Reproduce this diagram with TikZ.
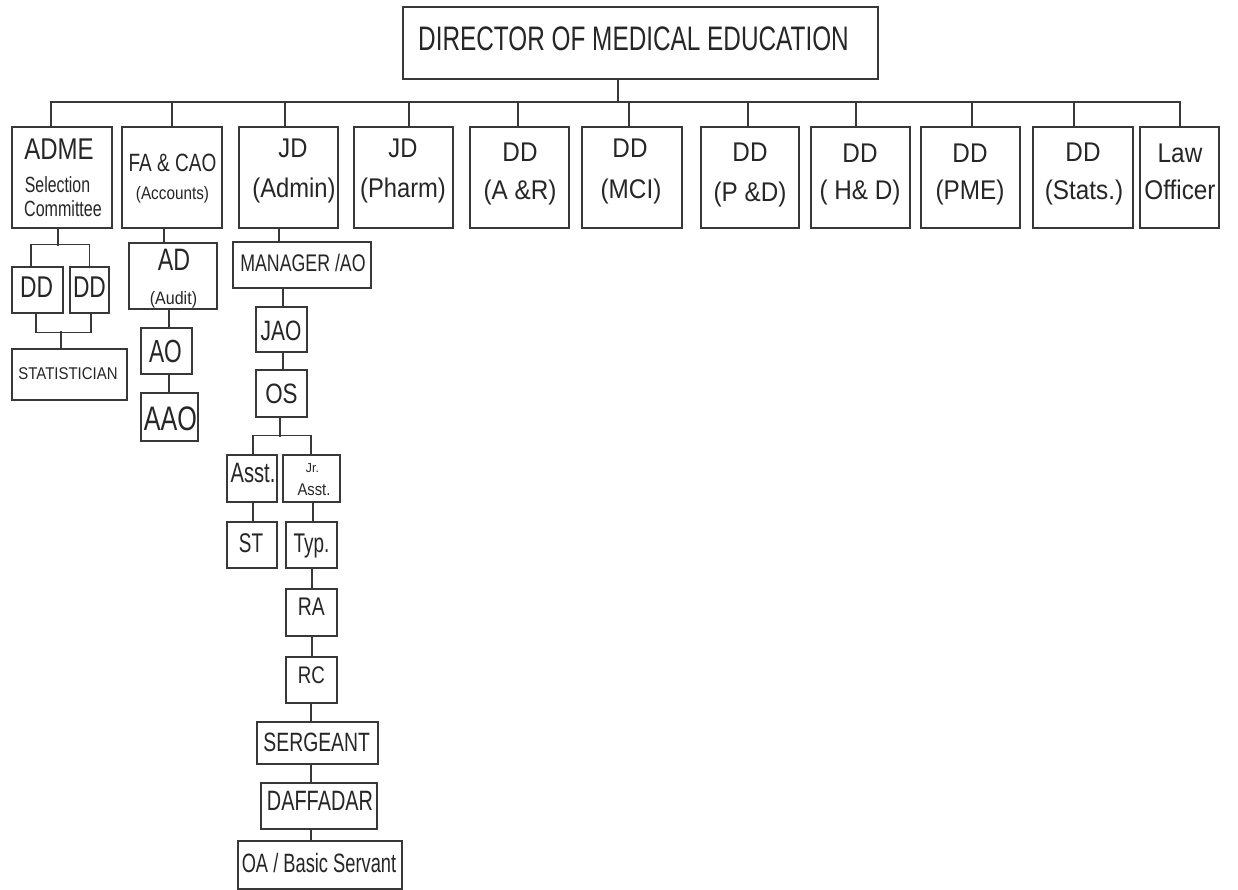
\documentclass[tikz,border=0pt]{standalone}
\usepackage{fontspec}
\usepackage{graphicx}
\setmainfont{Liberation Sans}
\newcommand\tx[3]{\scalebox{#2}[1]{\fontsize{#1}{#1}\selectfont #3}}
\begin{document}
\begin{tikzpicture}[x=1pt,y=-1pt,
  box/.style={draw=black!78, line width=1.1pt, inner sep=0pt, fill=white},
  ln/.style={draw=black!78, line width=1.1pt},
  txt/.style={inner sep=0pt, anchor=base, text=black!85}]
\newcommand\bx[5]{\node[box, minimum width=#4pt, minimum height=#5pt] (#1) at (#2,#3) {};}
\newcommand\tl[6]{\node[txt] (#1) at (#2,#3) {\tx{#4}{#5}{#6}};}
\fill[white] (0,0) rectangle (1238,890);
\useasboundingbox (0,0) rectangle (1238,890);

% ---------- boxes ----------
\bx{dme}{640.5}{43}{475}{72}
% top level
\bx{adme}{62}{177.5}{100}{101}
\bx{fa}{172}{177.5}{100}{101}
\bx{jda}{288.5}{177.5}{99}{101}
\bx{jdp}{403.5}{177.5}{99}{101}
\bx{dar}{519.5}{177.5}{99}{101}
\bx{dmci}{632}{177.5}{100}{101}
\bx{dpd}{750}{177.5}{98}{101}
\bx{dhd}{860.5}{177.5}{99}{101}
\bx{dpme}{970.5}{177.5}{99}{101}
\bx{dst}{1083}{177.5}{100}{101}
\bx{law}{1179.5}{177.5}{79}{101}
% ADME branch
\bx{dd1}{37.5}{290}{51}{46}
\bx{dd2}{89.5}{290}{39}{46}
\bx{stat}{69.5}{374.5}{115}{51}
% FA branch
\bx{ad}{173}{276}{88}{66}
\bx{ao}{166.5}{351}{51}{46}
\bx{aao}{169.5}{417}{57}{48}
% JD admin branch
\bx{mgr}{302}{265}{138}{46}
\bx{jao}{281.5}{329.5}{51}{45}
\bx{os}{281.5}{393.5}{51}{47}
\bx{asst}{252}{478.5}{50}{47}
\bx{jrasst}{311.5}{478.5}{57}{47}
\bx{st}{252}{545}{50}{46}
\bx{typ}{311.5}{545}{51}{46}
\bx{ra}{311.5}{612.5}{51}{47}
\bx{rc}{311.5}{680}{51}{46}
\bx{serg}{317.5}{743}{121}{42}
\bx{daff}{319}{806}{116}{46}
\bx{oa}{320}{865}{164}{48}

% ---------- connectors ----------
\coordinate (busL) at (51,102);
\coordinate (busR) at (1181,102);
\draw[ln] ([xshift=-22.5pt]dme.south) -- ++(0,23);
\draw[ln] (busL) -- (busR);
\foreach \n/\dx in {adme/-11,fa/0,jda/-3.5,jdp/5.5,dar/-1.5,dmci/-3,dpd/-2,dhd/-4.5,dpme/1.5,dst/-9,law/0.5}
  \draw[ln] ([xshift=\dx pt]\n.north) -- ++(0,-25);
% ADME branch
\draw[ln] ([xshift=-4pt]adme.south) -- ++(0,17);
\draw[ln] ([xshift=-6.5pt]dd1.north) -- ++(0,-22) -| (dd2.north);
\draw[ln] ([xshift=-1.5pt]dd1.south) -- ++(0,19) -| ([xshift=1.5pt]dd2.south);
\draw[ln] ([xshift=-8.5pt]stat.north) -- ++(0,-17);
% FA branch
\draw[ln] ([xshift=-8pt]fa.south) -- ([xshift=-9pt]ad.north);
\draw[ln] ([xshift=-4pt]ad.south) -- ([xshift=2.5pt]ao.north);
\draw[ln] ([xshift=2.5pt]ao.south) -- ([xshift=-0.5pt]aao.north);
% JD admin branch
\draw[ln] ([xshift=-9.5pt]jda.south) -- ([xshift=-23pt]mgr.north);
\draw[ln] ([xshift=-19pt]mgr.south) -- ([xshift=1.5pt]jao.north);
\draw[ln] ([xshift=1.5pt]jao.south) -- ([xshift=1.5pt]os.north);
\draw[ln] ([xshift=-1.5pt]os.south) -- ++(0,19);
\draw[ln] ([xshift=1pt]asst.north) -- ++(0,-19) -| ([xshift=-0.5pt]jrasst.north);
\draw[ln] ([xshift=1pt]asst.south) -- ([xshift=1pt]st.north);
\draw[ln] ([xshift=1.5pt]jrasst.south) -- ([xshift=1.5pt]typ.north);
\draw[ln] ([xshift=0.5pt]typ.south) -- ([xshift=0.5pt]ra.north);
\draw[ln] ([xshift=0.5pt]ra.south) -- ([xshift=0.5pt]rc.north);
\draw[ln] ([xshift=-0.5pt]rc.south) -- ([xshift=-6.5pt]serg.north);
\draw[ln] ([xshift=-6.5pt]serg.south) -- ([xshift=-8pt]daff.north);
\draw[ln] ([xshift=-8pt]daff.south) -- ([xshift=-9pt]oa.north);

% ---------- texts ----------
\tl{dme-t}{633.5}{51}{34}{0.716}{DIRECTOR OF MEDICAL EDUCATION}
\tl{adme-t1}{59}{160}{30}{0.8}{ADME}
\tl{adme-t2}{57.5}{193}{22}{0.72}{Selection}
\tl{adme-t3}{63}{217}{22}{0.73}{Committee}
\tl{fa-t1}{172.5}{172}{25}{0.76}{FA \& CAO}
\tl{fa-t2}{172.5}{200}{18}{0.85}{(Accounts)}
\tl{jda-t1}{293}{158}{27}{0.88}{JD}
\tl{jda-t2}{294}{198}{27}{0.88}{(Admin)}
\tl{jdp-t1}{403}{158}{27}{0.88}{JD}
\tl{jdp-t2}{403}{198}{27}{0.88}{(Pharm)}
\tl{dar-t1}{520}{162}{27}{0.9}{DD}
\tl{dar-t2}{520}{200}{27}{0.9}{(A \&R)}
\tl{dmci-t1}{630}{158}{27}{0.9}{DD}
\tl{dmci-t2}{631}{199}{27}{0.9}{(MCI)}
\tl{dpd-t1}{750}{162}{27}{0.9}{DD}
\tl{dpd-t2}{750}{202}{27}{0.9}{(P \&D)}
\tl{dhd-t1}{860}{163}{27}{0.9}{DD}
\tl{dhd-t2}{860}{200}{27}{0.9}{( H\& D)}
\tl{dpme-t1}{970}{163}{27}{0.9}{DD}
\tl{dpme-t2}{970}{200}{27}{0.9}{(PME)}
\tl{dst-t1}{1083}{162}{27}{0.9}{DD}
\tl{dst-t2}{1084}{200}{27}{0.9}{(Stats.)}
\tl{law-t1}{1180}{163}{27}{0.9}{Law}
\tl{law-t2}{1180}{200}{27}{0.9}{Officer}
\tl{dd1-t}{36.7}{298}{30}{0.76}{DD}
\tl{dd2-t}{89.5}{298}{30}{0.76}{DD}
\tl{stat-t}{68}{379}{17}{0.88}{STATISTICIAN}
\tl{ad-t1}{174}{271}{31}{0.75}{AD}
\tl{ad-t2}{173.5}{305}{18}{0.89}{(Audit)}
\tl{ao-t}{165.5}{362}{32}{0.71}{AO}
\tl{aao-t}{170.5}{430}{34}{0.74}{AAO}
\tl{mgr-t}{303}{272}{24}{0.74}{MANAGER /AO}
\tl{jao-t}{281}{340}{28}{0.75}{JAO}
\tl{os-t}{281.5}{403}{28}{0.8}{OS}
\tl{asst-t}{253}{482}{28}{0.72}{Asst.}
\tl{jrasst-t1}{312.5}{472}{13}{0.95}{Jr.}
\tl{jrasst-t2}{314}{495}{17}{0.87}{Asst.}
\tl{st-t}{251}{552}{27}{0.7}{ST}
\tl{typ-t}{311.5}{552}{27}{0.7}{Typ.}
\tl{ra-t}{311.3}{615}{25.5}{0.76}{RA}
\tl{rc-t}{311.3}{683}{24}{0.78}{RC}
\tl{serg-t}{316.7}{751}{26.5}{0.73}{SERGEANT}
\tl{daff-t}{320}{810}{28}{0.71}{DAFFADAR}
\tl{oa-t}{319}{872}{26.5}{0.69}{OA / Basic Servant}
\end{tikzpicture}
\end{document}
